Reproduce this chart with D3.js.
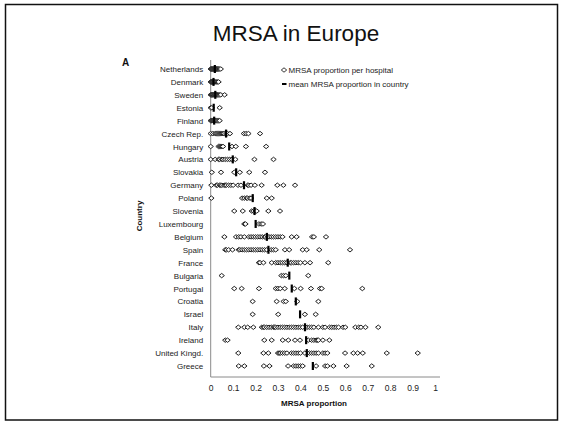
<!DOCTYPE html>
<html>
<head>
<meta charset="utf-8">
<script src="https://cdn.jsdelivr.net/npm/d3@7"></script>
<style>
  html, body { margin: 0; padding: 0; background: #fff; }
  svg { display: block; font-family: "Liberation Sans", Arial, sans-serif; }
</style>
</head>
<body>
<svg id="chart" width="563" height="424"></svg>
<script>
// Countries, top to bottom
const countries = ["Netherlands", "Denmark", "Sweden", "Estonia", "Finland", "Czech Rep.", "Hungary",
  "Austria", "Slovakia", "Germany", "Poland", "Slovenia", "Luxembourg", "Belgium", "Spain", "France",
  "Bulgaria", "Portugal", "Croatia", "Israel", "Italy", "Ireland", "United Kingd.", "Greece"];

// Mean MRSA proportion in each country
const means = [0.018, 0.012, 0.02, 0.013, 0.015, 0.068, 0.082, 0.098, 0.113, 0.148, 0.187, 0.195, 0.2,
  0.25, 0.257, 0.343, 0.35, 0.361, 0.379, 0.398, 0.42, 0.425, 0.428, 0.455];

// MRSA proportion per hospital, one list per country
const netherlands = [0.0, 0.002, 0.004, 0.006, 0.008, 0.01, 0.012, 0.014, 0.016, 0.018, 0.02, 0.022,
  0.024, 0.026, 0.028, 0.03, 0.033, 0.036, 0.04, 0.045];
const denmark = [0.0, 0.002, 0.004, 0.006, 0.008, 0.01, 0.012, 0.015, 0.018, 0.02, 0.025, 0.03, 0.035];
const sweden = [0.0, 0.003, 0.005, 0.008, 0.01, 0.012, 0.015, 0.018, 0.02, 0.022, 0.025, 0.028, 0.03,
  0.035, 0.04, 0.045, 0.062];
const estonia = [0.0, 0.005, 0.04];
const finland = [0.0, 0.003, 0.006, 0.01, 0.012, 0.015, 0.018, 0.02, 0.025, 0.03, 0.035, 0.04];
const czech = [0.0, 0.01, 0.02, 0.025, 0.03, 0.035, 0.04, 0.045, 0.05, 0.055, 0.06, 0.07, 0.075, 0.086,
  0.148, 0.158, 0.168, 0.22];
const hungary = [0.0, 0.035, 0.04, 0.045, 0.05, 0.055, 0.095, 0.112, 0.157, 0.247];
const austria = [0.0, 0.02, 0.035, 0.04, 0.05, 0.055, 0.065, 0.075, 0.085, 0.095, 0.11, 0.195, 0.28];
const slovakia = [0.005, 0.046, 0.105, 0.13, 0.172, 0.242];
const germany = [0.003, 0.025, 0.03, 0.04, 0.045, 0.05, 0.06, 0.065, 0.07, 0.08, 0.09, 0.1, 0.122, 0.135,
  0.165, 0.17, 0.18, 0.197, 0.227, 0.297, 0.324, 0.376];
const poland = [0.003, 0.14, 0.15, 0.16, 0.165, 0.175, 0.18, 0.25, 0.272];
const slovenia = [0.105, 0.143, 0.183, 0.19, 0.2, 0.205, 0.257, 0.309];
const luxembourg = [0.15, 0.155, 0.215, 0.225, 0.233];
const belgium = [0.061, 0.113, 0.125, 0.135, 0.15, 0.17, 0.18, 0.19, 0.2, 0.21, 0.22, 0.23, 0.24, 0.245,
  0.255, 0.26, 0.27, 0.28, 0.29, 0.3, 0.31, 0.32, 0.361, 0.383, 0.452, 0.46, 0.514];
const spain = [0.065, 0.07, 0.08, 0.097, 0.125, 0.13, 0.14, 0.15, 0.16, 0.17, 0.18, 0.19, 0.2, 0.21, 0.22,
  0.23, 0.24, 0.25, 0.27, 0.28, 0.29, 0.331, 0.35, 0.41, 0.428, 0.484, 0.621];
const france = [0.215, 0.22, 0.235, 0.272, 0.29, 0.3, 0.31, 0.32, 0.33, 0.34, 0.355, 0.36, 0.37, 0.38,
  0.39, 0.4, 0.42, 0.443, 0.524];
const bulgaria = [0.049, 0.315, 0.325, 0.335, 0.435];
const portugal = [0.105, 0.138, 0.215, 0.29, 0.3, 0.31, 0.33, 0.373, 0.401, 0.447, 0.487, 0.495, 0.676];
const croatia = [0.187, 0.294, 0.325, 0.335, 0.386, 0.48];
const israel = [0.187, 0.301, 0.42, 0.468];
const italy = [0.123, 0.15, 0.165, 0.19, 0.228, 0.235, 0.24, 0.25, 0.26, 0.27, 0.28, 0.285, 0.29, 0.3,
  0.31, 0.32, 0.33, 0.34, 0.35, 0.36, 0.37, 0.38, 0.39, 0.4, 0.41, 0.43, 0.44, 0.45, 0.46, 0.48, 0.5,
  0.51, 0.53, 0.54, 0.55, 0.56, 0.57, 0.59, 0.6, 0.645, 0.66, 0.67, 0.69, 0.747];
const ireland = [0.065, 0.075, 0.239, 0.272, 0.321, 0.346, 0.376, 0.398, 0.435, 0.45, 0.46, 0.47, 0.475,
  0.48, 0.5, 0.529];
const unitedKingdom = [0.123, 0.235, 0.257, 0.3, 0.305, 0.31, 0.32, 0.33, 0.34, 0.36, 0.37, 0.38, 0.39,
  0.4, 0.42, 0.44, 0.45, 0.46, 0.47, 0.48, 0.5, 0.51, 0.52, 0.599, 0.636, 0.655, 0.678, 0.785, 0.923];
const greece = [0.125, 0.15, 0.237, 0.262, 0.345, 0.37, 0.38, 0.39, 0.4, 0.41, 0.47, 0.51, 0.52, 0.547,
  0.606, 0.718];

const hospitals = [netherlands, denmark, sweden, estonia, finland, czech, hungary, austria, slovakia,
  germany, poland, slovenia, luxembourg, belgium, spain, france, bulgaria, portugal, croatia, israel,
  italy, ireland, unitedKingdom, greece];

const xTicks = [0, 0.1, 0.2, 0.3, 0.4, 0.5, 0.6, 0.7, 0.8, 0.9, 1];

const svg = d3.select("#chart");

// outer frame
svg.append("rect")
  .attr("x", 5.5).attr("y", 4.5).attr("width", 552).attr("height", 415.5)
  .attr("fill", "none").attr("stroke", "#111").attr("stroke-width", 1.5);

// title
svg.append("text")
  .attr("x", 296).attr("y", 41)
  .attr("text-anchor", "middle")
  .attr("font-size", 22.5)
  .attr("fill", "#111")
  .text("MRSA in Europe");

svg.append("text")
  .attr("x", 122).attr("y", 66)
  .attr("font-size", 10).attr("font-weight", "bold")
  .attr("fill", "#111")
  .text("A");

const x = d3.scaleLinear().domain([0, 1]).range([210.7, 435]);
const y = d3.scalePoint().domain(countries).range([69, 366]);

// axes lines
svg.append("line")
  .attr("x1", x(0)).attr("x2", x(0)).attr("y1", 60).attr("y2", 377)
  .attr("stroke", "#8a8a8a").attr("stroke-width", 1);

const xAxis = svg.append("g")
  .attr("transform", "translate(0,377)")
  .call(d3.axisBottom(x).tickValues(xTicks).tickSize(0).tickPadding(8)
    .tickFormat(d => d3.format("")(d)));
xAxis.select(".domain").remove();
xAxis.append("line")
  .attr("x1", x(0)).attr("x2", 440).attr("y1", 0).attr("y2", 0)
  .attr("stroke", "#8a8a8a").attr("stroke-width", 1);
xAxis.selectAll(".tick text")
  .attr("font-family", "Liberation Sans, Arial, sans-serif")
  .attr("font-size", 8.5).attr("fill", "#222");

const yAxis = svg.append("g")
  .attr("transform", `translate(${x(0)},0)`)
  .call(d3.axisLeft(y).tickSize(0).tickPadding(7.5));
yAxis.select(".domain").remove();
yAxis.selectAll(".tick text")
  .attr("font-family", "Liberation Sans, Arial, sans-serif")
  .attr("font-size", 8).attr("fill", "#222");

// axis titles
svg.append("text")
  .attr("x", 314).attr("y", 406)
  .attr("text-anchor", "middle")
  .attr("font-size", 8).attr("font-weight", "bold").attr("fill", "#111")
  .text("MRSA proportion");

svg.append("text")
  .attr("transform", "translate(142,216) rotate(-90)")
  .attr("text-anchor", "middle")
  .attr("font-size", 8).attr("font-weight", "bold").attr("fill", "#111")
  .text("Country");

// hospital diamonds
const diamond = "M-2.7,0L0,-2.2L2.7,0L0,2.2Z";
const points = [];
hospitals.forEach((vals, i) => vals.forEach(v => points.push({ c: countries[i], v })));

svg.append("g").selectAll("path")
  .data(points)
  .join("path")
  .attr("d", diamond)
  .attr("transform", d => `translate(${x(d.v)},${y(d.c)})`)
  .attr("fill", "#fff")
  .attr("stroke", "#222")
  .attr("stroke-width", 1);

// country means
svg.append("g").selectAll("rect")
  .data(countries.map((c, i) => ({ c, v: means[i] })))
  .join("rect")
  .attr("x", d => x(d.v) - 1)
  .attr("y", d => y(d.c) - 4)
  .attr("width", 2.2)
  .attr("height", 8)
  .attr("fill", "#000");

// legend
const lg = svg.append("g");
lg.append("path").attr("d", diamond)
  .attr("transform", "translate(284,70)")
  .attr("fill", "#fff").attr("stroke", "#222").attr("stroke-width", 0.9);
lg.append("text").attr("x", 288.5).attr("y", 72.8)
  .attr("font-size", 8).attr("fill", "#222")
  .text("MRSA proportion per hospital");
lg.append("line").attr("x1", 282).attr("x2", 286.5).attr("y1", 84).attr("y2", 84)
  .attr("stroke", "#000").attr("stroke-width", 2);
lg.append("text").attr("x", 288.5).attr("y", 86.8)
  .attr("font-size", 8).attr("fill", "#222")
  .text("mean MRSA proportion in country");
</script>
</body>
</html>
